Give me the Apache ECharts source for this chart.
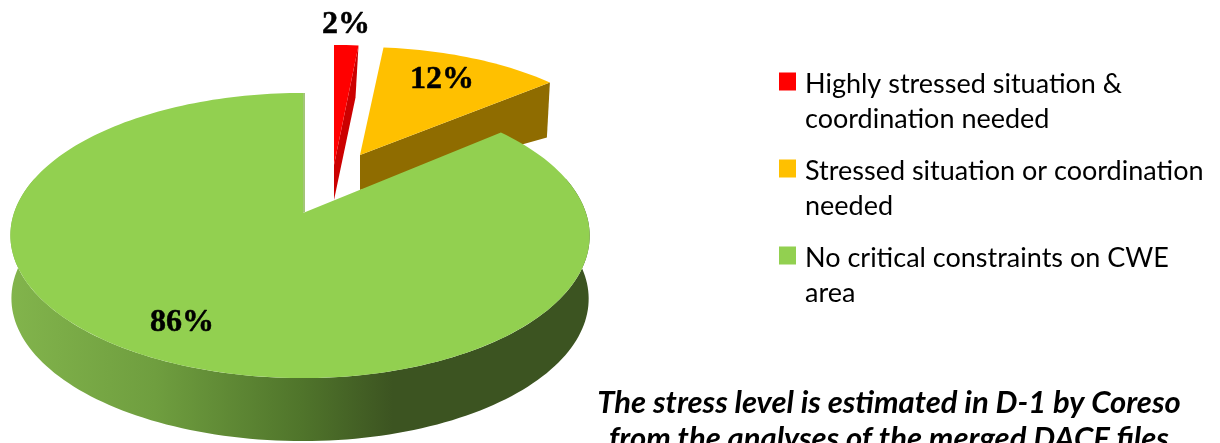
<!DOCTYPE html>
<html>
<head>
<meta charset="utf-8">
<style>html,body{margin:0;padding:0;background:#fff;overflow:hidden}#c{width:1220px;height:443px}</style>
<script src="https://cdn.jsdelivr.net/npm/echarts@6/dist/echarts.min.js"></script>
</head>
<body>
<div id="c"></div>
<script>
// Data
var categories = ['Highly stressed situation &\ncoordination needed',
                  'Stressed situation or coordination\nneeded',
                  'No critical constraints on CWE\narea'];
var shares = [1.6, 12.4, 86];
var shareLabels = ['2%', '12%', '86%'];
var topColors = ['#FF0000', '#FFC000', '#92D050'];
var captionLines = ['The stress level is estimated in D-1 by Coreso', 'from the analyses of the merged DACF files'];

// Projection of the tilted disc
var RX = 286, RY = 139, TILT = 0.158, RIM_SHIFT = -3;
// Layout of each exploded slice
var sliceLayout = [
  {ax: 334, ay: 165, sx: 1, sy: 1, apexDepth: 35, rimDepth: 52, wall: '#CC0000', labelDx: 12, labelDy: -140},
  {ax: 360, ay: 155, sx: 0.96, sy: 0.9, apexDepth: 35, rimDepth: 55, wall: '#8F6C00', labelDx: 82, labelDy: -75},
  {ax: 303, ay: 213, sx: 1, sy: 1, apexDepth: 63, rimDepth: 63, wall: null, labelDx: -121, labelDy: 110}
];
var LABEL_FONT = 'bold 32px "Liberation Serif"';

function project(deg, L, rx) {
  var t = deg * Math.PI / 180, X = Math.sin(t), Y = Math.cos(t), w = 1 + TILT * Y;
  return [L.ax + RIM_SHIFT * Math.abs(X) + (rx || RX) * L.sx * X / w, L.ay - RY * L.sy * Y / w];
}
function arc(from, to, L, rx, dy) {
  var pts = [], n = Math.max(2, Math.ceil(Math.abs(to - from) / 1.5));
  for (var i = 0; i <= n; i++) {
    var p = project(from + (to - from) * i / n, L, rx);
    pts.push([p[0], p[1] + (dy || 0)]);
  }
  return pts;
}
var total = shares.reduce(function (a, b) { return a + b; }, 0);
function startOf(i) {
  var s = 0;
  for (var k = 0; k < i; k++) s += shares[k];
  return s / total * 360;
}

function renderSlice(idx) {
  return function (params, api) {
    var L = sliceLayout[idx];
    var a0 = startOf(idx), a1 = a0 + api.value(0) / total * 360;
    var kids = [];
    var top = [[L.ax, L.ay]].concat(arc(a0, a1, L));
    if (idx === 2) {
      var upper = arc(75, 285, L);
      var lower = arc(285, 75, L, 285, L.rimDepth);
      kids.push({
        type: 'polygon', shape: {points: upper.concat(lower)},
        style: {fill: new echarts.graphic.LinearGradient(0, 0, 1, 0, [
          {offset: 0, color: '#82B44C'}, {offset: 0.25, color: '#6F9E3F'},
          {offset: 0.5, color: '#50752B'}, {offset: 0.66, color: '#3C5421'},
          {offset: 1, color: '#3C5421'}
        ])}
      });
      // thin inner face seen along the vertical cut edge
      var e = project(a1, L);
      kids.push({
        type: 'polygon',
        shape: {points: [[e[0], e[1]], [e[0] + 2, e[1]], [L.ax + 2, L.ay - 1], [L.ax, L.ay]]},
        style: {fill: '#A3C678'}
      });
    } else {
      var r = project(a1, L);
      kids.push({
        type: 'polygon',
        shape: {points: [[L.ax, L.ay], r, [r[0] - 3, r[1] + L.rimDepth], [L.ax, L.ay + L.apexDepth]]},
        style: {fill: L.wall}
      });
    }
    kids.push({type: 'polygon', shape: {points: top}, style: {fill: topColors[idx]}});
    kids.push({
      type: 'text',
      style: {text: shareLabels[idx], x: L.ax + L.labelDx, y: L.ay + L.labelDy,
        fill: '#000', stroke: '#000', lineWidth: 0.5, font: LABEL_FONT, align: 'center', verticalAlign: 'middle'}
    });
    return {type: 'group', children: kids};
  };
}

var chart = echarts.init(document.getElementById('c'));
chart.setOption({
  animation: false,
  backgroundColor: '#fff',
  title: {
    text: captionLines.join('\n'),
    left: 889, top: 385, textAlign: 'center', padding: 0,
    textStyle: {fontFamily: 'Lato', fontWeight: 'bold', fontStyle: 'italic', fontSize: 31, lineHeight: 36, color: '#000'}
  },
  legend: {
    left: 779, top: 66.5, orient: 'vertical', selectedMode: false, padding: 0,
    itemWidth: 21, itemHeight: 70, itemGap: 17,
    icon: 'path://M0 12H17V30H0Z M21 70L21 70',
    textStyle: {fontFamily: 'Lato', fontSize: 27, lineHeight: 35, color: '#000'},
    data: categories
  },
  series: shares.map(function (v, i) {
    return {
      type: 'custom', name: categories[i], coordinateSystem: 'none',
      itemStyle: {color: topColors[i]},
      renderItem: renderSlice(i), data: [[v]], silent: true
    };
  })
});
</script>
</body>
</html>
